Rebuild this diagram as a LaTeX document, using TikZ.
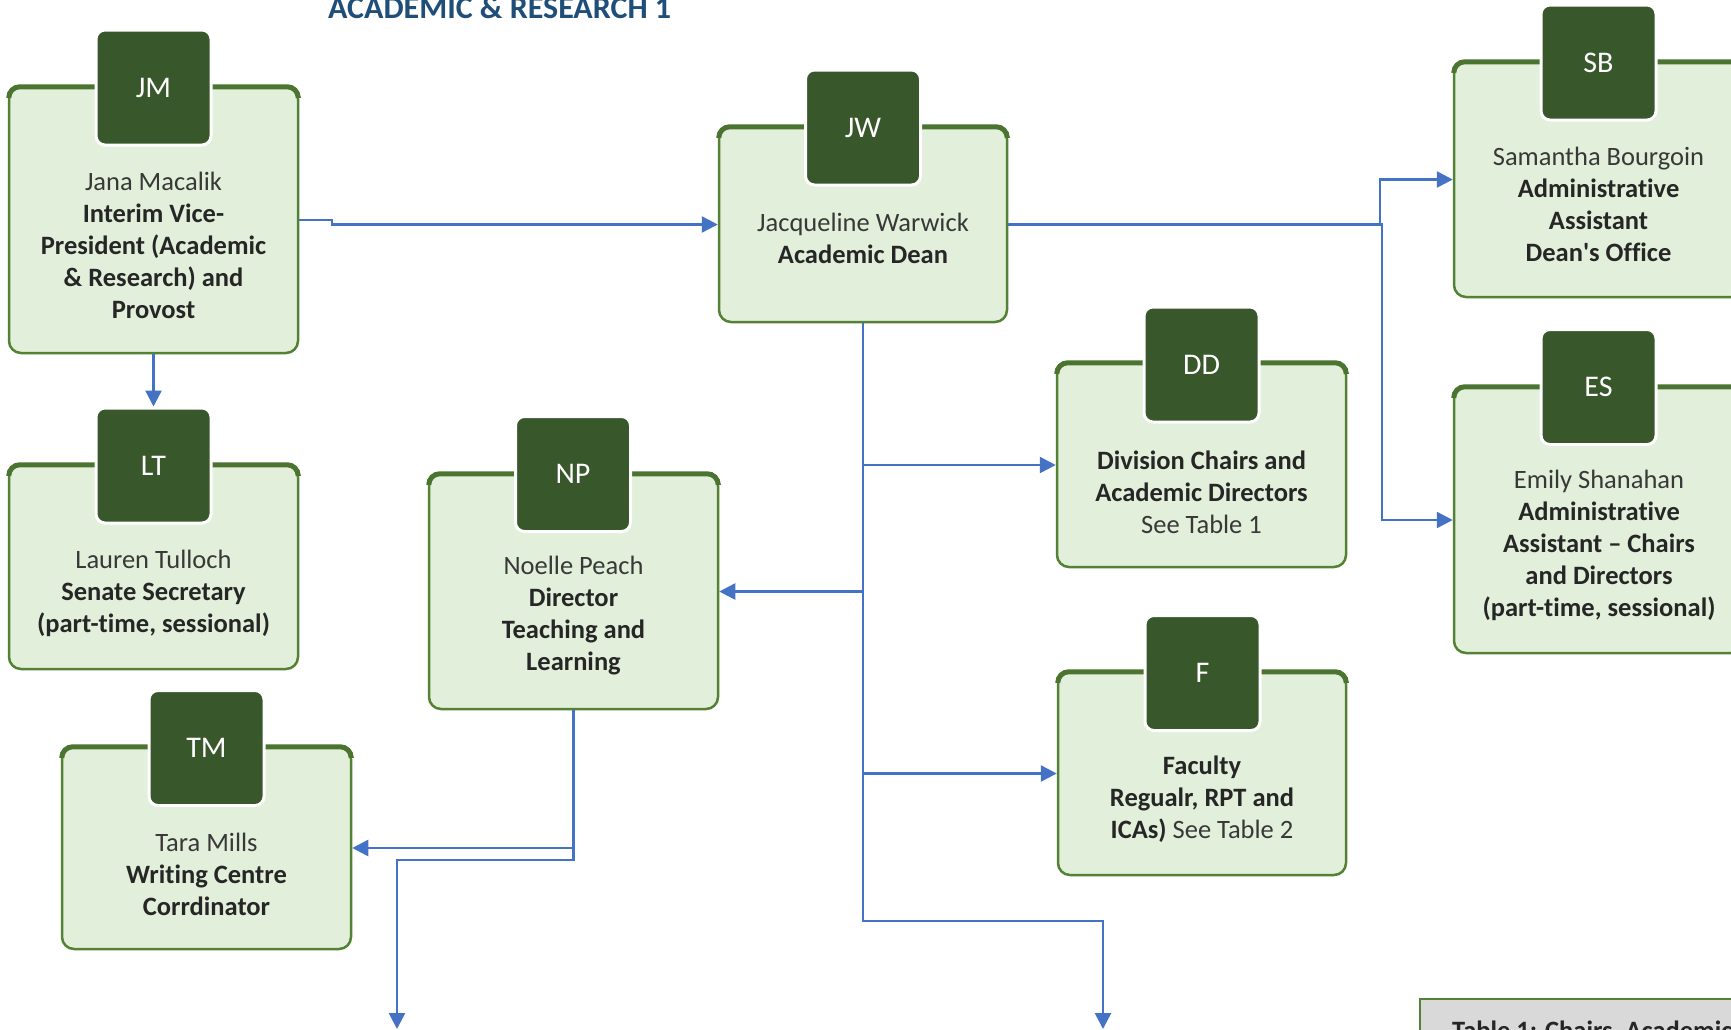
\documentclass[tikz,border=0pt]{standalone}
\usepackage{fontspec}
\setmainfont{Carlito}[Ligatures=NoCommon]
\usetikzlibrary{arrows.meta}
\definecolor{boxfill}{HTML}{E2EFDA}
\definecolor{boxline}{HTML}{548235}
\definecolor{bandline}{HTML}{4A7430}
\definecolor{badgefill}{HTML}{38572A}
\definecolor{connblue}{HTML}{4472C4}
\definecolor{titleblue}{HTML}{1F4E79}
\definecolor{txtdark}{HTML}{262626}
\definecolor{txtname}{HTML}{383838}
\definecolor{tblgray}{HTML}{D9D9D9}
\newcommand\orgband[1]{\draw[line width=5pt, draw=bandline, rounded corners=11pt]
  ([yshift=-11pt,xshift=1pt]#1.north west) |- ([yshift=-1pt]#1.north) -| ([yshift=-11pt,xshift=-1pt]#1.north east);}
\begin{document}
\begin{tikzpicture}[x=1pt,y=-1pt,
  orgbox/.style={draw=boxline, fill=boxfill, line width=2.5pt, rounded corners=12pt,
    minimum width=289pt, inner sep=0pt},
  badgebox/.style={draw=white, line width=3pt, fill=badgefill, rounded corners=9pt,
    minimum width=115pt, minimum height=115pt, inner sep=0pt, text=white,
    font=\fontsize{30}{34}\selectfont},
  lbl/.style={align=center, text=txtdark, font=\fontsize{26.5}{32}\selectfont, inner sep=0pt},
  connector/.style={draw=connblue, line width=2.5pt, -{Triangle[length=16pt,width=16pt]}},
]
\useasboundingbox (0,0) rectangle (1731,1029);
\fill[white] (0,0) rectangle (1731,1029);

% title
\node[anchor=base west, text=titleblue, font=\fontsize{32}{36}\selectfont\bfseries, inner sep=0pt]
  (title) at (328,18) {ACADEMIC \& RESEARCH 1};

% boxes
\node[orgbox, minimum height=266pt] (jm) at (153.5,220) {};
\node[orgbox, minimum height=204pt] (lt) at (153.5,567) {};
\node[orgbox, minimum height=195pt, minimum width=288pt] (jw) at (863,224.5) {};
\node[orgbox, minimum height=235pt] (sb) at (1598.5,179.5) {};
\node[orgbox, minimum height=266pt] (es) at (1598.5,520) {};
\node[orgbox, minimum height=204pt] (dd) at (1201.5,465) {};
\node[orgbox, minimum height=203pt, minimum width=288pt] (fa) at (1202,773.5) {};
\node[orgbox, minimum height=235pt] (np) at (573.5,591.5) {};
\node[orgbox, minimum height=202pt] (tm) at (206.5,848) {};

\orgband{jm}\orgband{lt}\orgband{jw}\orgband{sb}\orgband{es}\orgband{dd}\orgband{fa}\orgband{np}\orgband{tm}

% badges
\node[badgebox] (jmb) at (153.5,87.5) {JM};
\node[badgebox] (ltb) at (153.5,465.5) {LT};
\node[badgebox] (jwb) at (863,127.5) {JW};
\node[badgebox] (sbb) at (1598.5,62.5) {SB};
\node[badgebox] (esb) at (1598.5,387) {ES};
\node[badgebox] (ddb) at (1201.5,364.5) {DD};
\node[badgebox] (fab) at (1202.5,673) {F};
\node[badgebox] (npb) at (573,474) {NP};
\node[badgebox] (tmb) at (206.5,748) {TM};

% texts
\node[lbl] (jmt) at (153.5,245) {{\color{txtname}Jana Macalik}\\ \textbf{Interim Vice-}\\ \textbf{President (Academic}\\ \textbf{\& Research) and}\\ \textbf{Provost}};
\node[lbl] (ltt) at (153.5,593) {{\color{txtname}Lauren Tulloch}\\ \textbf{Senate Secretary}\\ \textbf{(part-time, sessional)}};
\node[lbl] (jwt) at (863,238.5) {{\color{txtname}Jacqueline Warwick}\\ \textbf{Academic Dean}};
\node[lbl] (sbt) at (1598.5,204.5) {{\color{txtname}Samantha Bourgoin}\\ \textbf{Administrative}\\ \textbf{Assistant}\\ \textbf{Dean\textquotesingle s Office}};
\node[lbl] (est) at (1599,545.5) {{\color{txtname}Emily Shanahan}\\ \textbf{Administrative}\\ \textbf{Assistant – Chairs}\\ \textbf{and Directors}\\ \textbf{(part-time, sessional)}};
\node[lbl] (ddt) at (1201.5,492) {\textbf{Division Chairs and}\\ \textbf{Academic Directors}\\ {\color{txtname}See Table 1}};
\node[lbl] (fat) at (1202,799) {\textbf{Faculty}\\ \textbf{Regualr, RPT and}\\ \textbf{ICAs)} {\color{txtname}See Table 2}};
\node[lbl] (npt) at (573.5,616) {{\color{txtname}Noelle Peach}\\ \textbf{Director}\\ \textbf{Teaching and}\\ \textbf{Learning}};
\node[lbl] (tmt) at (206.5,874) {{\color{txtname}Tara Mills}\\ \textbf{Writing Centre}\\ \textbf{Corrdinator}};

% table stub
\node[draw=boxline, fill=tblgray, line width=1.5pt, anchor=north west, minimum width=400pt,
  minimum height=100pt, inner sep=0pt] (tbl) at (1419,998) {};
\node[anchor=base west, text=txtdark, font=\fontsize{26.5}{30}\selectfont\bfseries, inner sep=0pt]
  (tblt) at (1452,1039) {Table 1: Chairs, Academic};

% connectors
\coordinate (c1) at (332,220);
\coordinate (c2) at (332,224.5);
\draw[connector] (jm.east) -- (c1) -- (c2) -- (jw.west);
\draw[connector] (jm.south) -- (ltb.north);
\coordinate (s1) at (1380,224.5);
\coordinate (s2) at (1382,224.5);
\draw[connector] (jw.east) -- (s1) |- (sb.west);
\draw[connector] (jw.east) -- (s2) |- (es.west);
\draw[connector] (jw.south) |- (dd.west);
\draw[connector] (jw.south) |- (fa.west);
\draw[connector] (jw.south) |- (np.east);
\coordinate (b1) at (863,921);
\coordinate (b2) at (1103,921);
\coordinate (bend1) at (1103,1029);
\draw[connector] (jw.south) -- (b1) -- (b2) -- (bend1);
\draw[connector] (np.south) |- (tm.east);
\coordinate (n1) at (573.5,860);
\coordinate (n2) at (397,860);
\coordinate (nend) at (397,1029);
\draw[connector] (np.south) -- (n1) -- (n2) -- (nend);
\end{tikzpicture}
\end{document}
